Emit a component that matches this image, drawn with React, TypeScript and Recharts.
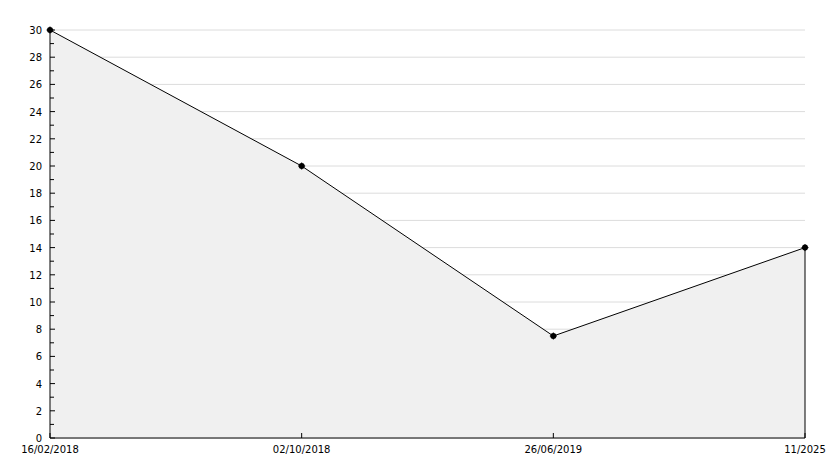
import React from 'react';
import { AreaChart, Area, XAxis, YAxis, CartesianGrid, ReferenceLine } from 'recharts';

const categories = ['16/02/2018', '02/10/2018', '26/06/2019', '11/2025'];
const values = [30, 20, 7.5, 14];
const yTicks = Array.from({ length: 31 }, (_, i) => i);
const gridValues = [0, 2, 4, 6, 8, 10, 12, 14, 16, 18, 20, 22, 24, 26, 28, 30];

const data = categories.map((c, i) => ({ date: c, value: values[i] }));

const FONT = 'DejaVu Sans, sans-serif';

const YTick = (props: any) => {
  const { x, y, payload } = props;
  const v = payload.value;
  const major = v % 2 === 0;
  const ax = x;
  return (
    <g>
      <line x1={ax} x2={ax + (major ? 5 : 4)} y1={y} y2={y} stroke="#000" strokeWidth={1} />
      {major && (
        <text x={ax - 8} y={y} dy={4} textAnchor="end" fontFamily={FONT} fontSize={10} fill="#000">
          {v}
        </text>
      )}
    </g>
  );
};

const XTick = (props: any) => {
  const { x, y, payload } = props;
  return (
    <g>
      <line x1={x} x2={x} y1={y} y2={y - 5} stroke="#000" strokeWidth={1} />
      <text x={x} y={y} dy={15} textAnchor="middle" fontFamily={FONT} fontSize={10} fill="#000">
        {payload.value}
      </text>
    </g>
  );
};

const Dot = (props: any) => {
  const { cx, cy } = props;
  if (cx == null || cy == null) return null;
  return (
    <g>
      <circle cx={cx} cy={cy} r={3} fill="#000" />
      <line x1={cx - 3.5} x2={cx + 3.5} y1={cy} y2={cy} stroke="#000" />
      <line x1={cx} x2={cx} y1={cy - 3.5} y2={cy + 3.5} stroke="#000" />
    </g>
  );
};

export default function App() {
  return (
    <div style={{ position: 'absolute', left: 0, top: 0, background: '#fff' }}>
      <AreaChart width={834} height={468} data={data} margin={{ top: 30, right: 29, left: 0, bottom: 0 }}>
        <CartesianGrid vertical={false} stroke="#dcdcdc" yAxisId="grid" />
        <YAxis
          yAxisId="grid"
          type="number"
          hide
          domain={[0, 30]}
          allowDataOverflow
          ticks={gridValues}
          interval={0}
        />
        <Area
          type="linear"
          dataKey="value"
          stroke="#000"
          strokeWidth={1}
          fill="#f0f0f0"
          fillOpacity={1}
          dot={<Dot />}
          activeDot={false}
          isAnimationActive={false}
        />
        <ReferenceLine
          segment={[
            { x: categories[3], y: 0 },
            { x: categories[3], y: values[3] },
          ]}
          stroke="#000"
        />
        <XAxis
          dataKey="date"
          height={30}
          tickLine={false}
          tickSize={0}
          tickMargin={0}
          axisLine={{ stroke: '#000' }}
          tick={<XTick />}
          interval={0}
        />
        <YAxis
          width={50}
          domain={[0, 30]}
          ticks={yTicks}
          interval={0}
          tickLine={false}
          tickSize={0}
          tickMargin={0}
          axisLine={{ stroke: '#000' }}
          tick={<YTick />}
        />
      </AreaChart>
    </div>
  );
}
